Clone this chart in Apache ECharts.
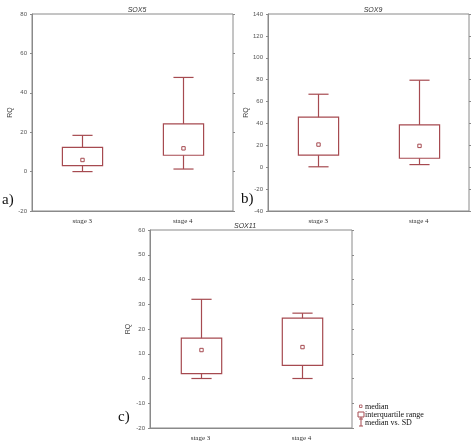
<!DOCTYPE html>
<html><head><meta charset="utf-8">
<script src="https://cdn.jsdelivr.net/npm/echarts@6/dist/echarts.min.js"></script>
<style>html,body{margin:0;padding:0;background:#fff}#c{width:474px;height:445px}</style>
</head><body><div id="c"></div>
<script>
const categories = ['stage 3', 'stage 4'];
// SOX5
const sox5Min = [0, 1.3];
const sox5Q1 = [3, 8.3];
const sox5Median = [5.9, 11.8];
const sox5Q3 = [12.3, 24.2];
const sox5Max = [18.4, 47.8];
// SOX9
const sox9Min = [0.4, 2.4];
const sox9Q1 = [11, 8.2];
const sox9Median = [20.7, 19.5];
const sox9Q3 = [45.7, 38.7];
const sox9Max = [66.7, 79.5];
// SOX11
const sox11Min = [0, 0];
const sox11Q1 = [2, 5.3];
const sox11Median = [11.5, 12.7];
const sox11Q3 = [16.3, 24.4];
const sox11Max = [32, 26.4];

const titles = ['SOX5', 'SOX9', 'SOX11'];
const yMins = [-20, -40, -20];
const yMaxs = [80, 140, 60];
const yIntervals = [20, 20, 10];
const panelLabels = ['a)', 'b)', 'c)'];
const legendTexts = ['median', 'interquartile range', 'median vs. SD'];

const COLOR = '#a64a50';
const AXIS = '#8a8a8a';

const grids = [
  {left: 32, top: 14, width: 201, height: 197},
  {left: 268, top: 14, width: 201, height: 197},
  {left: 150, top: 230, width: 202, height: 198}
];

function build(mins, q1, med, q3, maxs) {
  return categories.map((c, i) => [i, mins[i], q1[i], med[i], q3[i], maxs[i]]);
}
const seriesData = [
  build(sox5Min, sox5Q1, sox5Median, sox5Q3, sox5Max),
  build(sox9Min, sox9Q1, sox9Median, sox9Q3, sox9Max),
  build(sox11Min, sox11Q1, sox11Median, sox11Q3, sox11Max)
];

function renderItem(params, api) {
  const x = api.value(0);
  const pMin = api.coord([x, api.value(1)]);
  const pQ1 = api.coord([x, api.value(2)]);
  const pMed = api.coord([x, api.value(3)]);
  const pQ3 = api.coord([x, api.value(4)]);
  const pMax = api.coord([x, api.value(5)]);
  const bw = api.size([1, 0])[0] * 0.4;
  const cx = Math.round(pMin[0]) + 0.5;
  const style = {stroke: COLOR, fill: null, lineWidth: 1.2};
  return {
    type: 'group',
    children: [
      {type: 'rect', shape: {x: cx - bw / 2, y: pQ3[1], width: bw, height: pQ1[1] - pQ3[1]}, style},
      {type: 'line', shape: {x1: cx, y1: pQ3[1], x2: cx, y2: pMax[1]}, style},
      {type: 'line', shape: {x1: cx - bw / 4, y1: pMax[1], x2: cx + bw / 4, y2: pMax[1]}, style},
      {type: 'line', shape: {x1: cx, y1: pQ1[1], x2: cx, y2: pMin[1]}, style},
      {type: 'line', shape: {x1: cx - bw / 4, y1: pMin[1], x2: cx + bw / 4, y2: pMin[1]}, style},
      {type: 'rect', shape: {x: cx - 1.7, y: pMed[1] - 1.7, width: 3.4, height: 3.4}, style: {stroke: COLOR, fill: '#fff', lineWidth: 1}}
    ]
  };
}

const xAxis = [], yAxis = [], series = [], grid = [], title = [];
grids.forEach((g, i) => {
  grid.push(Object.assign({show: true, borderColor: AXIS, borderWidth: 1, backgroundColor: '#fff'}, g));
  xAxis.push({
    type: 'category', gridIndex: i, data: categories, position: 'bottom',
    axisLine: {onZero: false, lineStyle: {color: AXIS}}, axisTick: {alignWithLabel: true, length: 2, lineStyle: {color: AXIS}},
    axisLabel: {fontFamily: 'Liberation Serif', fontSize: 7, color: '#333', margin: 7},
    splitLine: {show: false}
  });
  yAxis.push({
    type: 'value', gridIndex: i, min: yMins[i], max: yMaxs[i], interval: yIntervals[i],
    name: 'RQ', nameLocation: 'middle', nameGap: 18, nameRotate: 90,
    nameTextStyle: {fontFamily: 'Liberation Sans', fontSize: 7, color: '#444'},
    axisLine: {show: true, lineStyle: {color: AXIS}}, axisTick: {show: true, length: 2, lineStyle: {color: AXIS}},
    axisLabel: {fontFamily: 'Liberation Sans', fontSize: 6, color: '#555', margin: 5},
    splitLine: {show: false}
  });
  yAxis.push({
    type: 'value', gridIndex: i, min: yMins[i], max: yMaxs[i], interval: yIntervals[i], position: 'right',
    axisLine: {show: false}, axisTick: {show: true, length: 2, lineStyle: {color: AXIS}},
    axisLabel: {show: false}, splitLine: {show: false}
  });
  series.push({
    type: 'custom', xAxisIndex: i, yAxisIndex: i * 2, renderItem,
    encode: {x: 0, y: [1, 2, 3, 4, 5]}, data: seriesData[i], silent: true
  });
});

title.push({text: titles[0], left: 132, top: 2, textAlign: 'center'});
title.push({text: titles[1], left: 368, top: 2, textAlign: 'center'});
title.push({text: titles[2], left: 240, top: 218, textAlign: 'center'});
title.forEach(t => { t.textStyle = {fontFamily: 'Liberation Sans', fontStyle: 'italic', fontWeight: 'normal', fontSize: 7, color: '#333'}; });

const serif = {fontFamily: 'Liberation Serif', fill: '#111'};
const graphic = [
  {type: 'text', left: 2, top: 193, style: Object.assign({text: panelLabels[0], fontSize: 15}, serif)},
  {type: 'text', left: 241, top: 192, style: Object.assign({text: panelLabels[1], fontSize: 15}, serif)},
  {type: 'text', left: 118, top: 410, style: Object.assign({text: panelLabels[2], fontSize: 15}, serif)},
  // legend
  {type: 'rect', shape: {x: 359.5, y: 405, width: 2.5, height: 2.5}, style: {stroke: COLOR, fill: '#fff', lineWidth: 0.8}},
  {type: 'text', x: 365, y: 406.5, style: Object.assign({text: legendTexts[0], fontSize: 8, verticalAlign: 'middle'}, serif)},
  {type: 'rect', shape: {x: 358, y: 412, width: 6, height: 5}, style: {stroke: COLOR, fill: '#fff', lineWidth: 1}},
  {type: 'line', shape: {x1: 361, y1: 417, x2: 361, y2: 419}, style: {stroke: COLOR, lineWidth: 1}},
  {type: 'line', shape: {x1: 359, y1: 419, x2: 363, y2: 419}, style: {stroke: COLOR, lineWidth: 1}},
  {type: 'text', x: 365, y: 414.5, style: Object.assign({text: legendTexts[1], fontSize: 8, verticalAlign: 'middle'}, serif)},
  {type: 'line', shape: {x1: 361, y1: 419, x2: 361, y2: 426}, style: {stroke: COLOR, lineWidth: 1}},
  {type: 'line', shape: {x1: 359, y1: 426, x2: 363, y2: 426}, style: {stroke: COLOR, lineWidth: 1}},
  {type: 'text', x: 365, y: 423, style: Object.assign({text: legendTexts[2], fontSize: 8, verticalAlign: 'middle'}, serif)}
];

const chart = echarts.init(document.getElementById('c'), null, {renderer: 'canvas'});
chart.setOption({backgroundColor: '#fff', animation: false, title, grid, xAxis, yAxis, series, graphic});
</script>
</body></html>
